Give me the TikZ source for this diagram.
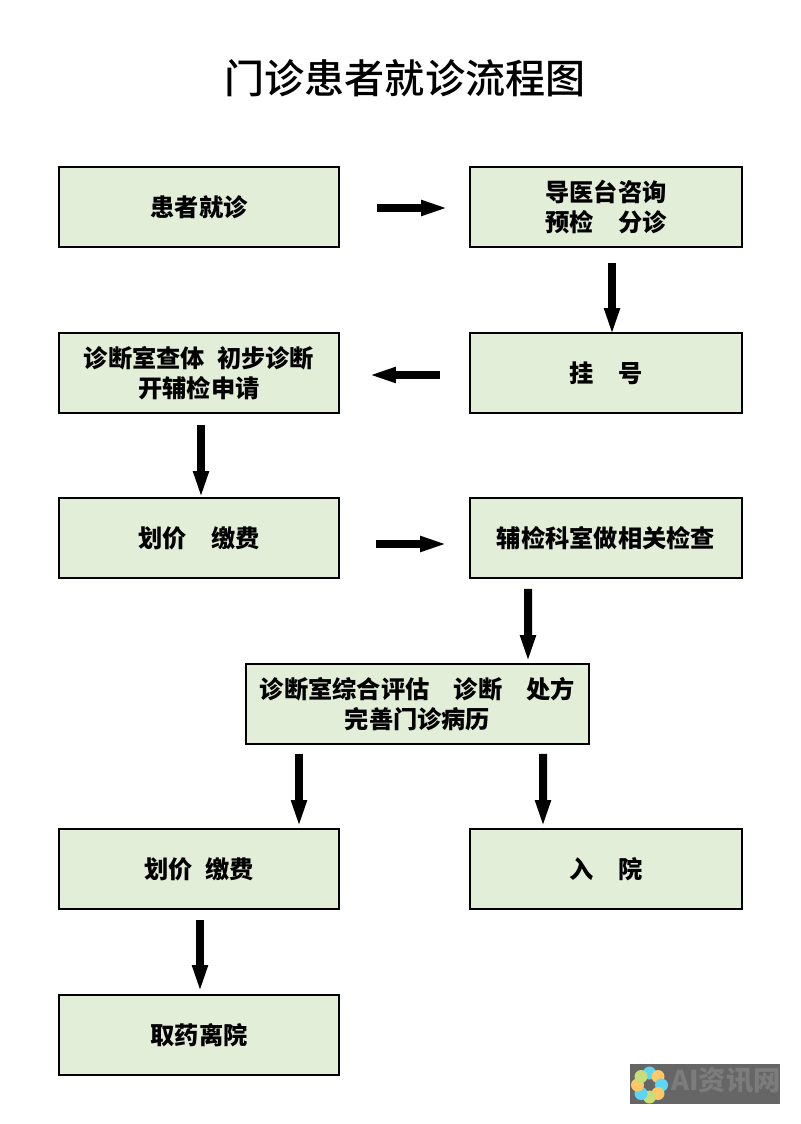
\documentclass[tikz,border=0pt]{standalone}
\usepackage{xcolor}
\usepackage{fontspec}
\setmainfont{Noto Sans CJK SC}
\newfontfamily\titlefont{Noto Sans CJK SC Medium}
\usetikzlibrary{arrows.meta}
\definecolor{boxGreen}{HTML}{E3EED9}
\definecolor{markGray}{HTML}{666666}
\definecolor{markText}{HTML}{7C7C7C}
\definecolor{petalBlue}{HTML}{5CD6F5}
\definecolor{petalOrange}{HTML}{FFC766}
\definecolor{petalGreen}{HTML}{C8DC78}
\def\u{0.02cm}
\def\wideW{5.6 cm}
\def\rightW{5.44 cm}
\def\midW{6.86 cm}
\def\boxH{1.6 cm}

\begin{document}
\begin{tikzpicture}[
    x=\u, y=-\u,
    >={Triangle[length=0.56cm,width=0.28cm]},
    stepbox/.style={rectangle, draw, line width=0.04cm, fill=boxGreen, inner sep=0pt,
        minimum height=\boxH, align=center, font=\fontsize{13.8}{17}\selectfont\bfseries},
    flow/.style={->, line width=0.16cm, shorten >=-0.1cm}
]
\useasboundingbox (0,0) rectangle (800,1124);

\node (title) at (405,78) {\fontsize{22.8}{28}\titlefont 门诊患者就诊流程图};

\node[stepbox, minimum width=\wideW] (patient) at (199,207) {患者就诊};
\node[stepbox, minimum width=\rightW] (guide) at (606,207) {导医台咨询\\预检　分诊};
\node[stepbox, minimum width=\rightW] (register) at (606,373) {挂　号};
\node[stepbox, minimum width=\wideW] (exam) at (199,373) {诊断室查体\hspace{0.5em}初步诊断\\开辅检申请};
\node[stepbox, minimum width=\wideW] (pay) at (199,538) {划价　缴费};
\node[stepbox, minimum width=\rightW] (tests) at (606,538) {辅检科室做相关检查};
\node[stepbox, minimum width=\midW] (assess) at (417.5,704) {诊断室综合评估　诊断　处方\\完善门诊病历};
\node[stepbox, minimum width=\wideW] (payTwo) at (199,869) {划价\hspace{0.5em}缴费};
\node[stepbox, minimum width=\rightW] (admit) at (606,869) {入　院};
\node[stepbox, minimum width=\wideW] (leave) at (199,1035) {取药离院};

\draw[flow] ([xshift=37*\u,yshift=-1*\u]patient.east) -- ([xshift=-25*\u,yshift=-1*\u]guide.west);
\draw[flow] ([xshift=6*\u,yshift=-15*\u]guide.south) -- ([xshift=6*\u,yshift=1*\u]register.north);
\draw[flow] ([xshift=-29*\u,yshift=-2*\u]register.west) -- ([xshift=33*\u,yshift=-2*\u]exam.east);
\draw[flow] ([xshift=2*\u,yshift=-11*\u]exam.south) -- ([xshift=2*\u,yshift=3*\u]pay.north);
\draw[flow] ([xshift=36*\u,yshift=-6*\u]pay.east) -- ([xshift=-26*\u,yshift=-6*\u]tests.west);
\draw[flow] ([xshift=-78*\u,yshift=-10*\u]tests.south) -- ([xshift=110.5*\u,yshift=5*\u]assess.north);
\draw[flow] ([xshift=-118.5*\u,yshift=-9*\u]assess.south) -- ([xshift=100*\u,yshift=5*\u]payTwo.north);
\draw[flow] ([xshift=125.5*\u,yshift=-9*\u]assess.south) -- ([xshift=-63*\u,yshift=5*\u]admit.north);
\draw[flow] ([xshift=1*\u,yshift=-10*\u]payTwo.south) -- ([xshift=1*\u,yshift=6*\u]leave.north);

% watermark corner
\fill[markGray] (630,1064) rectangle (780,1104);
\foreach \ang/\col in {90/petalBlue, 45/petalOrange, 0/petalBlue, -45/petalOrange,
    -90/petalGreen, -135/petalBlue, 180/petalOrange, 135/petalGreen}
    \fill[\col] ({649.5+12*cos(\ang)},{1085-12*sin(\ang)}) circle (6.5);
\node[text=markText, font=\fontsize{15.5}{18}\selectfont\bfseries\itshape, inner sep=0pt] (mark) at (726,1081) {AI资讯网};
\end{tikzpicture}
\end{document}
